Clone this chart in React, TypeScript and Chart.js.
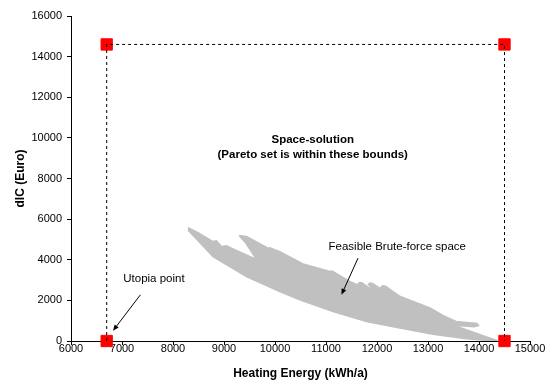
import React, { useEffect, useRef } from 'react';
import { Chart, registerables } from 'chart.js';

Chart.register(...registerables);

// Axis ranges (kWh/a on x, Euro on y)
const xMin = 6000;
const xMax = 15000;
const xStep = 1000;
const yMin = 0;
const yMax = 16000;
const yStep = 2000;

// Corners of the solution space: utopia (min heating, min cost) and nadir bounds
const boundHeating = [6700, 6700, 14500, 14500];
const boundCost = [0, 14600, 14600, 0];

// Outline of the feasible brute-force space: upper edge left to right
const bandUpperX = [
  8294, 8500, 8785, 8851, 8949, 9047, 9350, 9636, 9420, 9320, 9308, 9440, 9863, 9900,
  10093, 10550, 11075, 11120, 11465, 11620, 11650, 11700, 12000, 11830, 11860, 11910,
  12250, 12080, 12110, 12170, 12446, 12707, 13038, 13300, 13550, 13800, 13960, 13990,
  13900, 13500, 13900, 14150, 14342,
];
const bandUpperY = [
  5582, 5320, 4894, 4929, 4649, 4683, 4330, 4019, 4850, 5110, 5189, 5140, 4570, 4590,
  4403, 3790, 3420, 3440, 2929, 2760, 2880, 2870, 2350, 2790, 2850, 2830,
  2280, 2650, 2720, 2700, 2200, 1946, 1622, 1250, 960, 900, 860, 760,
  700, 780, 420, 200, 40,
];
// ...and lower edge right to left
const bandLowerX = [14300, 13754, 13099, 12446, 11793, 11138, 10485, 10093, 9440, 8785, 8294];
const bandLowerY = [0, 110, 330, 640, 963, 1455, 2029, 2437, 3175, 4157, 5469];

// Text notes and their arrows, anchored in data units
const notes = [
  { text: 'Space-solution', x: 10740, y: 9926, bold: true },
  { text: '(Pareto set is within these bounds)', x: 10740, y: 9189, bold: true },
  { text: 'Feasible Brute-force space', x: 12397, y: 4619, bold: false },
  { text: 'Utopia point', x: 7626, y: 3047, bold: false },
];
const arrows = [
  { fromX: 11628, fromY: 4079, toX: 11303, toY: 2275 },
  { fromX: 7361, fromY: 2275, toX: 6824, toY: 506 },
];

const FONT = '"Liberation Sans", Arial, sans-serif';

const notesPlugin = {
  id: 'notes',
  afterDatasetsDraw(chart: any) {
    const { ctx } = chart;
    const xs = chart.scales.x;
    const ys = chart.scales.y;
    ctx.save();
    ctx.fillStyle = '#000';
    ctx.strokeStyle = '#000';
    ctx.textAlign = 'center';
    ctx.textBaseline = 'middle';
    for (const n of notes) {
      ctx.font = `${n.bold ? 'bold ' : ''}11.5px ${FONT}`;
      ctx.fillText(n.text, xs.getPixelForValue(n.x), ys.getPixelForValue(n.y));
    }
    ctx.lineWidth = 1;
    for (const a of arrows) {
      const x0 = xs.getPixelForValue(a.fromX);
      const y0 = ys.getPixelForValue(a.fromY);
      const x1 = xs.getPixelForValue(a.toX);
      const y1 = ys.getPixelForValue(a.toY);
      const ang = Math.atan2(y1 - y0, x1 - x0);
      const head = 6;
      const half = 2.5;
      const bx = x1 - head * Math.cos(ang);
      const by = y1 - head * Math.sin(ang);
      ctx.beginPath();
      ctx.moveTo(x0, y0);
      ctx.lineTo(bx, by);
      ctx.stroke();
      ctx.beginPath();
      ctx.moveTo(x1, y1);
      ctx.lineTo(bx + half * Math.sin(ang), by - half * Math.cos(ang));
      ctx.lineTo(bx - half * Math.sin(ang), by + half * Math.cos(ang));
      ctx.closePath();
      ctx.fill();
    }
    ctx.restore();
  },
};

export default function App() {
  const canvasRef = useRef<HTMLCanvasElement | null>(null);

  useEffect(() => {
    document.body.style.margin = '0';
    const canvas = canvasRef.current;
    if (!canvas) return;

    const bandPoints = [
      ...bandUpperX.map((x, i) => ({ x, y: bandUpperY[i] })),
      ...bandLowerX.map((x, i) => ({ x, y: bandLowerY[i] })),
    ];
    const boundPoints = boundHeating.map((x, i) => ({ x, y: boundCost[i] }));

    const chart = new Chart(canvas, {
      type: 'scatter',
      data: {
        datasets: [
          {
            label: 'Bounds',
            data: boundPoints,
            showLine: true,
            borderColor: '#000',
            borderWidth: 1,
            borderDash: [3, 3],
            pointRadius: 0,
            fill: false,
            order: 0,
            clip: false,
          } as any,
          {
            label: 'Corner points',
            data: boundPoints,
            showLine: false,
            pointStyle: 'rect',
            pointRadius: 8,
            backgroundColor: '#FF0000',
            borderColor: '#FF0000',
            borderWidth: 1,
            order: 1,
            clip: false,
          } as any,
          {
            label: 'Feasible Brute-force space',
            data: bandPoints,
            showLine: true,
            borderColor: '#C0C0C0',
            backgroundColor: '#C0C0C0',
            borderWidth: 1.5,
            pointRadius: 0,
            fill: 'shape',
            order: 2,
          } as any,
        ],
      },
      options: {
        animation: false,
        responsive: true,
        maintainAspectRatio: false,
        events: [],
        layout: { padding: { top: 16, right: 15, left: 0, bottom: 0 } },
        plugins: {
          legend: { display: false },
          tooltip: { enabled: false },
        },
        scales: {
          x: {
            type: 'linear',
            min: xMin,
            max: xMax,
            afterFit: (s: any) => {
              s.height = 43;
            },
            ticks: {
              stepSize: xStep,
              color: '#000',
              font: { family: FONT, size: 11 },
              padding: -3,
              maxRotation: 0,
              callback: (v: any) => String(v),
            },
            grid: { drawOnChartArea: false, drawTicks: true, tickLength: 4, color: '#000' },
            border: { display: true, color: '#000', width: 1 },
            title: {
              display: true,
              text: 'Heating Energy (kWh/a)',
              color: '#000',
              font: { family: FONT, size: 12, weight: 'bold' },
              padding: { top: 0, bottom: 3 },
            },
          },
          y: {
            type: 'linear',
            min: yMin,
            max: yMax,
            afterFit: (s: any) => {
              s.width = 71;
            },
            ticks: {
              stepSize: yStep,
              color: '#000',
              font: { family: FONT, size: 11 },
              padding: 5,
              callback: (v: any) => String(v),
            },
            grid: { drawOnChartArea: false, drawTicks: true, tickLength: 4, color: '#000' },
            border: { display: true, color: '#000', width: 1 },
            title: {
              display: true,
              text: 'dIC (Euro)',
              color: '#000',
              font: { family: FONT, size: 12, weight: 'bold' },
              padding: { top: 13, bottom: 0 },
            },
          },
        },
      },
      plugins: [notesPlugin],
    });

    return () => chart.destroy();
  }, []);

  return (
    <div style={{ position: 'relative', width: '545px', height: '384px' }}>
      <canvas ref={canvasRef} />
    </div>
  );
}
